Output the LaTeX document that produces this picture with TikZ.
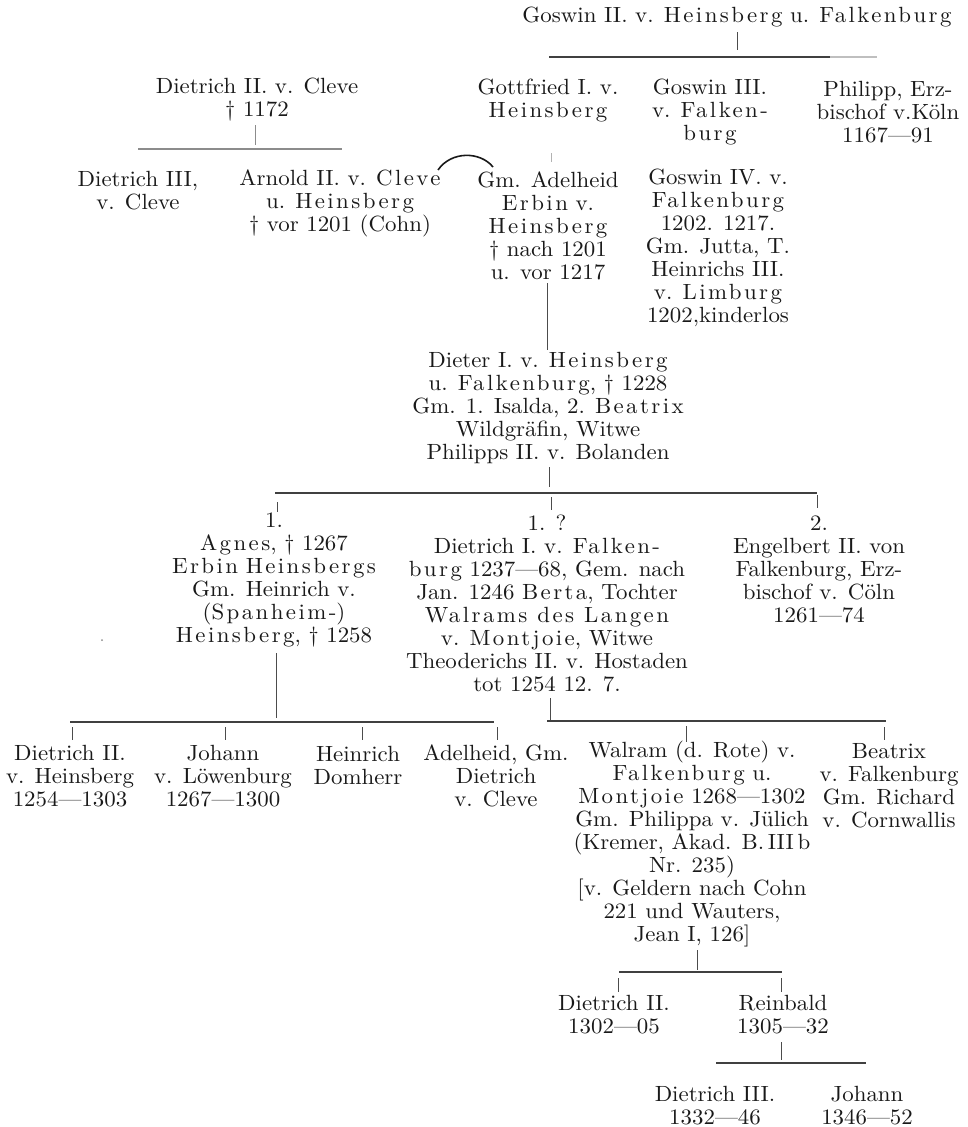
\documentclass[tikz,border=0pt]{standalone}
\usepackage{fontspec}
\setmainfont{lmroman10-regular.otf}[FakeStretch=1.04]
\newcommand{\spz}[1]{{\addfontfeatures{LetterSpace=11}#1}}
\begin{document}
\begin{tikzpicture}[x=1pt,y=-1pt,
  person/.style={align=center, inner sep=0pt, text=black!90, font=\fontsize{22}{23}\selectfont},
  bar/.style={line width=1.1pt, draw=black!75},
  tick/.style={line width=0.7pt, draw=black!70},
  faint/.style={line width=0.7pt, draw=black!30}]
\useasboundingbox[fill=white] (0,0) rectangle (967,1127);

% ---- nodes ----
\node[person] (goswin2) at (737,17) {Goswin II. v. \spz{Heinsberg} u. \spz{Falkenburg}};
\node[person] (dcleve) at (257,100) {Dietrich II. v. Cleve\\\textdagger{} 1172};
\node[person] (gottfried) at (548,101) {Gottfried I. v.\\\spz{Heinsberg}};
\node[person] (goswin3) at (710,112) {Goswin III.\\v. \spz{Falken-}\\\spz{burg}};
\node[person] (philipp) at (888,112) {Philipp, Erz-\\bischof v.Köln\\1167—91};
\node[person] (dcleve3) at (138,191) {Dietrich III,\\v. Cleve};
\node[person] (arnold) at (340,203) {Arnold II. v. \spz{Cleve}\\u. \spz{Heinsberg}\\\textdagger{} vor 1201 (Cohn)};
\node[person] (adelheid) at (548,226) {Gm. Adelheid\\\spz{Erbin} v.\\\spz{Heinsberg}\\\textdagger{} nach 1201\\u. vor 1217};
\node[person] (goswin4) at (718,248) {Goswin IV. v.\\\spz{Falkenburg}\\1202. 1217.\\Gm. Jutta, T.\\Heinrichs III.\\v. \spz{Limburg}\\1202,kinderlos};
\node[person] (dieter) at (548,408) {Dieter I. v. \spz{Heinsberg}\\u. \spz{Falkenburg}, \textdagger{} 1228\\Gm. 1. Isalda, 2. \spz{Beatrix}\\Wildgräfin, Witwe\\Philipps II. v. Bolanden};
\node[person] (agnes) at (274,580) {1.\\\spz{Agnes}, \textdagger{} 1267\\\spz{Erbin} \spz{Heinsbergs}\\Gm. Heinrich v.\\(\spz{Spanheim-})\\\spz{Heinsberg}, \textdagger{} 1258};
\node[person] (dfalk) at (547,603) {1. ?\\Dietrich I. v. \spz{Falken-}\\\spz{burg} 1237—68, Gem. nach\\Jan. 1246 \spz{Berta}, Tochter\\\spz{Walrams des Langen}\\v. \spz{Montjoie}, Witwe\\Theoderichs II. v. Hostaden\\tot 1254 12. 7.};
\node[person] (engelbert) at (819,569) {2.\\Engelbert II. von\\Falkenburg, Erz-\\bischof v. Cöln\\1261—74};
\node[person] (dh2) at (70,776) {Dietrich II.\\v. Heinsberg\\1254—1303};
\node[person] (johann) at (223,776) {Johann\\v. Löwenburg\\1267—1300};
\node[person] (heinrich) at (358,765) {Heinrich\\Domherr};
\node[person] (adelheid2) at (496,776) {Adelheid, Gm.\\Dietrich\\v. Cleve};
\node[person] (walram) at (692,844) {Walram (d. Rote) v.\\\spz{Falkenburg} u.\\\spz{Montjoie} 1268—1302\\Gm. Philippa v. Jülich\\(Kremer, Akad. B.\,III\,b\\Nr. 235)\\{[}v. Geldern nach Cohn\\221 und Wauters,\\Jean I, 126{]}};
\node[person] (beatrix) at (889,786) {Beatrix\\v. Falkenburg\\Gm. Richard\\v. Cornwallis};
\node[person] (dh2f) at (614,1015) {Dietrich II.\\1302—05};
\node[person] (reinbald) at (783,1015) {Reinbald\\1305—32};
\node[person] (dh3f) at (715,1106) {Dietrich III.\\1332—46};
\node[person] (johann2) at (867,1106) {Johann\\1346—52};
\fill[black!45] (102,640) circle (1pt);

% ---- coordinates ----
\coordinate (g2a) at (737,32); \coordinate (g2b) at (737,50);
\coordinate (g2l) at (549,57); \coordinate (g2m) at (830,57); \coordinate (g2r) at (877,57);
\coordinate (dca) at (255,125); \coordinate (dcb) at (255,145);
\coordinate (dcl) at (138,149); \coordinate (dcr) at (342,149);
\coordinate (arcA) at (438,170); \coordinate (arcB) at (493,167);
\coordinate (gfa) at (551,153); \coordinate (gfb) at (551,162);
\coordinate (ada) at (547,283); \coordinate (adb) at (547,350);
\coordinate (dta) at (549,467); \coordinate (dtb) at (549,487);
\coordinate (dtl) at (275,493); \coordinate (dtr) at (817,493);
\coordinate (k1a) at (277,502); \coordinate (k1b) at (277,512);
\coordinate (k2a) at (551,497); \coordinate (k2b) at (551,510);
\coordinate (k3a) at (817,495); \coordinate (k3b) at (817,508);
\coordinate (aga) at (276,653); \coordinate (agb) at (276,718);
\coordinate (agl) at (70,722); \coordinate (agr) at (494,722);
\coordinate (a1a) at (72,727); \coordinate (a1b) at (72,740);
\coordinate (a2a) at (225,727); \coordinate (a2b) at (225,740);
\coordinate (a3a) at (362,727); \coordinate (a3b) at (362,740);
\coordinate (a4a) at (497,727); \coordinate (a4b) at (497,740);
\coordinate (dfa) at (550,698); \coordinate (dfb) at (550,720);
\coordinate (dfl) at (547,721); \coordinate (dfr) at (886,721);
\coordinate (f1a) at (686,726); \coordinate (f1b) at (686,742);
\coordinate (f2a) at (884,727); \coordinate (f2b) at (884,740);
\coordinate (wra) at (697,950); \coordinate (wrb) at (697,970);
\coordinate (wrl) at (619,972); \coordinate (wrr) at (782,972);
\coordinate (w1a) at (618,978); \coordinate (w1b) at (618,992);
\coordinate (w2a) at (781,978); \coordinate (w2b) at (781,992);
\coordinate (rba) at (781,1042); \coordinate (rbb) at (781,1060);
\coordinate (rbl) at (716,1063); \coordinate (rbr) at (866,1063);

% ---- connectors ----
\draw[tick] (g2a) -- (g2b);
\draw[bar] (g2l) -- (g2m);
\draw[bar, draw=black!25] (g2m) -- (g2r);
\draw[tick, draw=black!45] (dca) -- (dcb);
\draw[bar, draw=black!45] (dcl) -- (dcr);
\draw[line width=1.6pt, black!90] (arcA) .. controls (451,151) and (480,151) .. (arcB);
\draw[faint] (gfa) -- (gfb);
\draw[tick] (ada) -- (adb);
\draw[tick] (dta) -- (dtb);
\draw[bar] (dtl) -- (dtr);
\draw[tick] (k1a) -- (k1b);
\draw[tick] (k2a) -- (k2b);
\draw[tick] (k3a) -- (k3b);
\draw[tick] (aga) -- (agb);
\draw[bar] (agl) -- (agr);
\draw[tick] (a1a) -- (a1b);
\draw[tick] (a2a) -- (a2b);
\draw[tick] (a3a) -- (a3b);
\draw[tick] (a4a) -- (a4b);
\draw[tick] (dfa) -- (dfb);
\draw[bar] (dfl) -- (dfr);
\draw[tick] (f1a) -- (f1b);
\draw[tick] (f2a) -- (f2b);
\draw[tick] (wra) -- (wrb);
\draw[bar] (wrl) -- (wrr);
\draw[tick] (w1a) -- (w1b);
\draw[tick] (w2a) -- (w2b);
\draw[tick, line width=1pt] (rba) -- (rbb);
\draw[bar] (rbl) -- (rbr);
\end{tikzpicture}
\end{document}
